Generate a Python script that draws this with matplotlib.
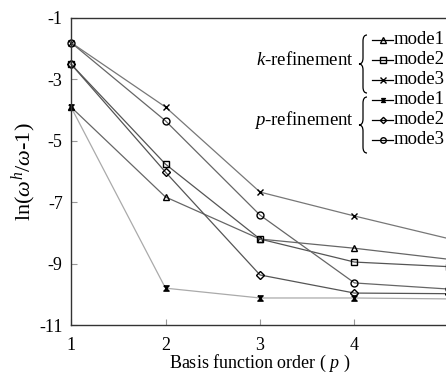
import matplotlib
matplotlib.use("Agg")
from matplotlib import pyplot as plt
from matplotlib.lines import Line2D
from matplotlib.path import Path
from matplotlib.patches import PathPatch

plt.rcParams["font.family"] = ["Liberation Serif", "DejaVu Serif"]
plt.rcParams["mathtext.fontset"] = "custom"
plt.rcParams["mathtext.rm"] = "Liberation Serif"
plt.rcParams["mathtext.it"] = "Liberation Serif:italic"
plt.rcParams["axes.unicode_minus"] = False

# %%
# data
p = [1, 2, 3, 4, 5]
k_mode1 = [-3.9, -6.83, -8.2, -8.5, -8.86]
k_mode2 = [-2.5, -5.76, -8.2, -8.95, -9.1]
k_mode3 = [-1.8, -3.9, -6.67, -7.45, -8.19]
p_mode1 = [-3.9, -9.8, -10.12, -10.12, -10.15]
p_mode2 = [-2.5, -6.02, -9.37, -9.96, -9.98]
p_mode3 = [-1.8, -4.35, -7.42, -9.63, -9.83]
yticks = [-1, -3, -5, -7, -9, -11]

W, H = 446, 376
hourglass = [(-1, 1), (1, 1), (-1, -1), (1, -1), (-1, 1)]

series = [
    (k_mode1, "^", "#666666", "none"),
    (k_mode2, "s", "#555555", "none"),
    (k_mode3, "x", "#777777", "none"),
    (p_mode1, hourglass, "#aaaaaa", "black"),
    (p_mode2, "D", "#555555", "none"),
    (p_mode3, "o", "#666666", "none"),
]


def msize(mk, base):
    if mk == "D":
        return base - 0.8
    if isinstance(mk, list):
        return base - 1.2
    return base


fig = plt.figure(figsize=(W / 100, H / 100), dpi=100)
ax = fig.add_axes([71 / W, 1 - 325 / H, 378 / W, 307 / H])

for ys, mk, col, fc in series:
    ax.plot(p, ys, color=col, lw=0.9, marker=mk, ms=msize(mk, 5), mfc=fc,
            mec="black", mew=1.0, clip_on=False)

ax.set_xlim(1, 5)
ax.set_ylim(-11, -1)
ax.set_xticks(p)
ax.set_yticks(yticks)
ax.tick_params(direction="in", length=4, color="#999999", labelsize=13, pad=9)
ax.tick_params(axis="y", pad=6)
for s in ["left", "bottom", "top"]:
    ax.spines[s].set_color("#333333")
    ax.spines[s].set_linewidth(1.0)
ax.spines["right"].set_visible(False)
ax.set_xlabel("Basis function order ( $p$ )", fontsize=13, labelpad=-1)
ax.set_ylabel(r"ln($\omega^h/\omega$-1)", fontsize=16, labelpad=0)


# %%
# hand-made legend with braces
def fx(x):
    return x / W


def fy(y):
    return 1 - y / H


def brace(x, y0, y1, w=4, r=6):
    ym = (y0 + y1) / 2
    verts = [
        (x + w, y0), (x, y0), (x, y0 + r),
        (x, ym - r),
        (x, ym), (x - w, ym),
        (x, ym), (x, ym + r),
        (x, y1 - r),
        (x, y1), (x + w, y1),
    ]
    codes = [Path.MOVETO, Path.CURVE3, Path.CURVE3, Path.LINETO,
             Path.CURVE3, Path.CURVE3, Path.CURVE3, Path.CURVE3,
             Path.LINETO, Path.CURVE3, Path.CURVE3]
    verts = [(fx(a), fy(b)) for a, b in verts]
    fig.add_artist(PathPatch(Path(verts, codes), fill=False, lw=0.9,
                             edgecolor="black", transform=fig.transFigure))


rows = [40, 60, 80, 100, 120, 140]
for i, ((ys, mk, col, fc), ry) in enumerate(zip(series, rows)):
    fig.add_artist(Line2D([fx(372), fx(393)], [fy(ry), fy(ry)],
                          color="black", lw=0.9, transform=fig.transFigure))
    fig.add_artist(Line2D([fx(382.5)], [fy(ry)], marker=mk, ms=msize(mk, 4),
                          mfc=fc, mec="black", mew=1.0,
                          transform=fig.transFigure))
    fig.text(fx(394), fy(ry), "mode" + str(i % 3 + 1), fontsize=13.5,
             va="center", ha="left")

fig.text(fx(354), fy(60), "$k$-refinement", fontsize=13.5, va="center", ha="right")
fig.text(fx(354), fy(120), "$p$-refinement", fontsize=13.5, va="center", ha="right")
brace(363, 35, 93)
brace(363, 97, 153)

plt.savefig("out.png", dpi=100)
